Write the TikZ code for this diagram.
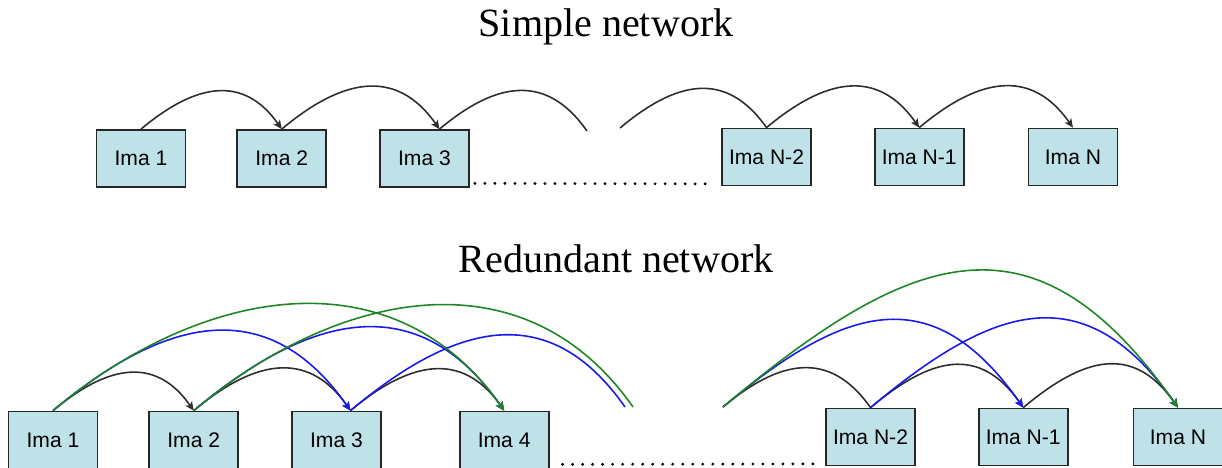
\documentclass[tikz,border=0pt]{standalone}
\usepackage{fontspec}
\setmainfont{Liberation Serif}
\setsansfont{Liberation Sans}
\usepackage{tikz}
\usetikzlibrary{positioning, calc, arrows.meta}
\definecolor{imafill}{RGB}{190,226,232}
\definecolor{hopgray}{RGB}{45,45,45}
\definecolor{skipblue}{RGB}{25,25,235}
\definecolor{leapgreen}{RGB}{30,135,35}
\tikzset{imabox/.style={draw=black!85, line width=1pt, fill=imafill, minimum width=1.78cm, minimum height=1.14cm, inner sep=0, font=\sffamily\fontsize{12}{14}\selectfont}}
\tikzset{ttl/.style={anchor=base, font=\fontsize{22.8}{26}\selectfont}}
\tikzset{linkarr/.style={draw, line width=0.9pt, out=40, in=125, -{Stealth[length=5pt, width=4.5pt, inset=1.2pt]}}}
\tikzset{hoparr/.style={linkarr, hopgray, looseness=1.25}}
\tikzset{skiparr/.style={linkarr, skipblue, looseness=1.25}}
\tikzset{leaparr/.style={linkarr, leapgreen, looseness=1.1}}
\tikzset{dotline/.style={line width=1.8pt, line cap=round, dash pattern=on 0pt off 5.7pt}}

\begin{document}
\begin{tikzpicture}[x=0.02cm, y=0.02cm]
	\useasboundingbox (0,0) rectangle (1222,467);
	\node[ttl] (ttlsimple) at (606,430) {Simple network};
	\node[ttl] (ttlred) at (616,195) {Redundant network};

	% simple chain
	\node[imabox] (s1) at (141,308.5) {Ima 1};
	\node[imabox, right=1cm of s1] (s2) {Ima 2};
	\node[imabox, right=1.04cm of s2] (s3) {Ima 3};
	\node[imabox] (sn2) at (766.5,310) {Ima N-2};
	\node[imabox, right=1.24cm of sn2] (sn1) {Ima N-1};
	\node[imabox, right=1.26cm of sn1] (sn) {Ima N};
	\coordinate (s3p) at ([xshift=0.3cm]s3.north);
	\coordinate (sout) at (587,336);
	\coordinate (sin) at (620,339);

	\draw[hoparr] (s1.north) to (s2.north);
	\draw[hoparr] (s2.north) to (s3p);
	\draw[hoparr, -] (s3p) to (sout);
	\draw[hoparr, -] (sin) to (sn2.north);
	\draw[hoparr] (sn2.north) to (sn1.north);
	\draw[hoparr] (sn1.north) to (sn.north);
	\draw[dotline] ([shift={(0.1cm,0.09cm)}]s3.south east) -- ([shift={(-0.16cm,0.05cm)}]sn2.south west);

	% redundant chain
	\node[imabox] (r1) at (53,27) {Ima 1};
	\node[imabox, right=1cm of r1] (r2) {Ima 2};
	\node[imabox, right=1.04cm of r2] (r3) {Ima 3};
	\node[imabox, right=1.54cm of r3] (r4) {Ima 4};
	\node[imabox] (rn2) at (870.5,30) {Ima N-2};
	\node[imabox, right=1.24cm of rn2] (rn1) {Ima N-1};
	\node[imabox, right=1.28cm of rn1] (rn) {Ima N};
	\coordinate (r3p) at ([xshift=0.28cm]r3.north);
	\coordinate (rblueout) at (625,60);
	\coordinate (rgreenout) at (633,60);
	\coordinate (rin) at (723,60);

	\draw[hoparr] (r1.north) to (r2.north);
	\draw[hoparr] (r2.north) to (r3p);
	\draw[hoparr] (r3p) to (r4.north);
	\draw[hoparr, -] (rin) to (rn2.north);
	\draw[hoparr, looseness=1.3] (rn2.north) to (rn1.north);
	\draw[hoparr, looseness=1.3] (rn1.north) to (rn.north);

	\draw[skiparr] (r1.north) to (r3p);
	\draw[skiparr] (r2.north) to (r4.north);
	\draw[skiparr, -] (r3p) to (rblueout);
	\draw[skiparr, looseness=1.35] (rin) to (rn1.north);
	\draw[skiparr, looseness=1.35] (rn2.north) to (rn.north);

	\draw[leaparr] (r1.north) to (r4.north);
	\draw[leaparr, -] (r2.north) to (rgreenout);
	\draw[leaparr, looseness=1.4] (rin) to (rn.north);
	\draw[dotline] ([shift={(0.26cm,0.1cm)}]r4.south east) -- ([shift={(-0.12cm,0.05cm)}]rn2.south west);
\end{tikzpicture}
\end{document}
